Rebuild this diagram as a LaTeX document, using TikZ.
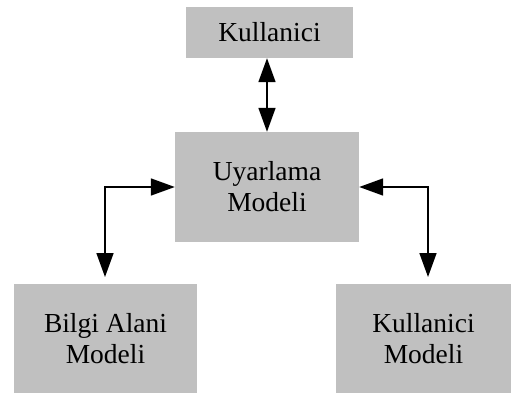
\documentclass[tikz,border=0pt]{standalone}
\usepackage{fontspec}
\setmainfont{Liberation Serif}
\usetikzlibrary{arrows.meta}
\definecolor{boxgray}{RGB}{192,192,192}
\begin{document}
\begin{tikzpicture}[x=1pt,y=-1pt,
  modelbox/.style={fill=boxgray, draw=none, inner sep=0pt, align=center,
    font=\fontsize{27.5}{31}\selectfont},
  link/.style={line width=1.6pt, {Triangle[length=24pt,width=17pt]}-{Triangle[length=24pt,width=17pt]}}]
  \useasboundingbox (0,0) rectangle (511,393);
  \node[modelbox, minimum width=167pt, minimum height=51pt] (user) at (269.5,32.5) {Kullanici};
  \node[modelbox, minimum width=184pt, minimum height=110pt] (adapt) at (267,187) {Uyarlama\\Modeli};
  \node[modelbox, minimum width=183pt, minimum height=109pt] (domain) at (105.5,338.5) {Bilgi Alani\\Modeli};
  \node[modelbox, minimum width=175pt, minimum height=109pt] (umodel) at (423.5,338.5) {Kullanici\\Modeli};
  \coordinate (lc) at (105,187);
  \coordinate (rc) at (428,187);
  \draw[link] (user.south -| 267,0) -- (adapt.north -| 267,0);
  \draw[link] (adapt.west) -- (lc) -- (105,277);
  \draw[link] (adapt.east) -- (rc) -- (428,277);
\end{tikzpicture}
\end{document}
